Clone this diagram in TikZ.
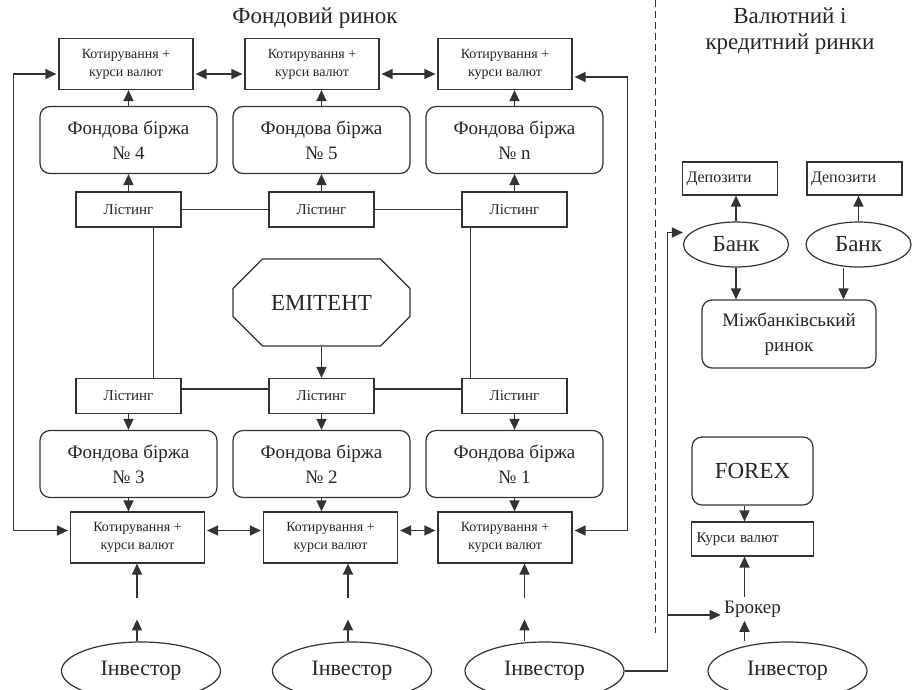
\documentclass[tikz,border=0pt]{standalone}
\usepackage{fontspec}
\setmainfont{Liberation Serif}
\usetikzlibrary{positioning,shapes.geometric,shapes.misc,arrows.meta}

\begin{document}
\begin{tikzpicture}[
  x=1pt, y=1pt,
  node distance=193pt,
  every node/.style={text=black!85},
  quote/.style={rectangle, draw=black!80, line width=1.2pt, minimum width=134pt, minimum height=51pt, align=center, inner sep=1pt, font=\fontsize{14}{18}\selectfont},
  exch/.style={rectangle, rounded corners=10pt, draw=black!80, line width=1.2pt, minimum width=177pt, minimum height=67pt, align=center, font=\fontsize{19}{25}\selectfont},
  listbox/.style={rectangle, draw=black!80, line width=1.2pt, minimum width=105pt, minimum height=35pt, font=\fontsize{15}{18}\selectfont},
  emitbox/.style={chamfered rectangle, chamfered rectangle xsep=22pt, chamfered rectangle ysep=22pt, draw=black!80, line width=1.2pt, minimum width=177pt, minimum height=87pt, inner sep=0pt, font=\fontsize{23}{27}\selectfont},
  person/.style={ellipse, draw=black!80, line width=1.2pt, minimum width=159pt, minimum height=58pt, inner sep=0pt, font=\fontsize{22}{26}\selectfont},
  bankbox/.style={ellipse, draw=black!80, line width=1.2pt, minimum width=105pt, minimum height=45pt, inner sep=0pt, font=\fontsize{23}{27}\selectfont},
  depbox/.style={rectangle, draw=black!80, line width=1.2pt, minimum width=95pt, minimum height=33pt, text width=87pt, align=left, inner sep=3pt, font=\fontsize{16}{19}\selectfont},
  title/.style={align=center, font=\fontsize{23}{26}\selectfont},
  link/.style={draw=black!80, line width=1.3pt},
  arrow/.style={link, -{Triangle[length=11pt,width=10pt]}},
  dblarrow/.style={link, {Triangle[length=11pt,width=10pt]}-{Triangle[length=11pt,width=10pt]}}
]
\useasboundingbox (0,0) rectangle (914,-689);

% Titles
\node[title] (t_stock) at (315,-18) {Фондовий ринок};
\node[title] (t_cur) at (790,-31) {Валютний і\\кредитний ринки};
\coordinate (sep_top) at (655,0);
\coordinate (sep_bot) at (655,-633);
\draw[link, line width=1pt, dash pattern=on 7pt off 4pt] (sep_top) -- (sep_bot);

% Upper exchanges
\node[exch] (ex4) at (128.5,-140) {Фондова біржа\\№ 4};
\node[exch, right of=ex4] (ex5) {Фондова біржа\\№ 5};
\node[exch, right of=ex5] (exn) {Фондова біржа\\№ n};
\node[quote, above of=ex4, node distance=76pt, xshift=-2.5pt] (q4) {Котирування +\\курси валют};
\node[quote, above of=ex5, node distance=76pt, xshift=-9.5pt] (q5) {Котирування +\\курси валют};
\node[quote, above of=exn, node distance=76pt, xshift=-9.5pt] (qn) {Котирування +\\курси валют};
\node[listbox, below of=ex4, node distance=69.5pt] (lt1) {Лістинг};
\node[listbox, below of=ex5, node distance=69.5pt] (lt2) {Лістинг};
\node[listbox, below of=exn, node distance=69.5pt] (lt3) {Лістинг};

\foreach \l/\e/\q in {lt1/ex4/q4, lt2/ex5/q5, lt3/exn/qn} {
  \draw[arrow] (\l.north) -- (\e.south);
  \draw[arrow] (\e.north) -- (\e.north |- \q.south);
}
\draw[link] (lt1.east) -- (lt2.west);
\draw[link] (lt2.east) -- (lt3.west);
\draw[dblarrow, shorten <=2pt, shorten >=2pt] ([yshift=-10pt]q4.east) -- ([yshift=-10pt]q5.west);
\draw[dblarrow, shorten <=2pt, shorten >=2pt] ([yshift=-10pt]q5.east) -- ([yshift=-10pt]qn.west);

% Emitent and lower exchanges
\node[emitbox] (emit) at (321.5,-302.5) {ЕМІТЕНТ};
\node[listbox, below of=emit, node distance=93.5pt] (lb2) {Лістинг};
\node[listbox, left of=lb2] (lb1) {Лістинг};
\node[listbox, right of=lb2] (lb3) {Лістинг};
\node[exch, below of=lb1, node distance=68pt] (ex3) {Фондова біржа\\№ 3};
\node[exch, below of=lb2, node distance=68pt] (ex2) {Фондова біржа\\№ 2};
\node[exch, below of=lb3, node distance=68pt] (ex1) {Фондова біржа\\№ 1};
\node[quote, below of=ex3, node distance=73.5pt, xshift=9pt] (q3) {Котирування +\\курси валют};
\node[quote, below of=ex2, node distance=73.5pt, xshift=9pt] (q2) {Котирування +\\курси валют};
\node[quote, below of=ex1, node distance=73.5pt, xshift=-9.5pt] (q1) {Котирування +\\курси валют};

\draw[arrow] (emit.south) -- (lb2.north);
\foreach \l/\e/\q in {lb1/ex3/q3, lb2/ex2/q2, lb3/ex1/q1} {
  \draw[arrow] (\l.south) -- (\e.north);
  \draw[arrow] (\e.south) -- (\e.south |- \q.north);
}
\draw[link] ([yshift=7pt]lb1.east) -- ([yshift=7pt]lb2.west);
\draw[link] ([yshift=7pt]lb2.east) -- ([yshift=7pt]lb3.west);
\draw[link] ([xshift=25pt]lt1.south) -- ([xshift=25pt]lt1.south |- lb1.north);
\draw[link] ([xshift=-44pt]lt3.south) -- ([xshift=-44pt]lt3.south |- lb3.north);
\draw[dblarrow, shorten <=2pt, shorten >=2pt] ([yshift=7pt]q3.east) -- ([yshift=7pt]q2.west);
\draw[dblarrow, shorten <=2pt, shorten >=2pt] ([yshift=7pt]q2.east) -- ([yshift=7pt]q1.west);

% Feedback loops
\draw[dblarrow, shorten <=2pt, shorten >=2pt] ([yshift=-10pt]q4.west) -- ++(-45pt,0) |- ([yshift=7pt]q3.west);
\draw[dblarrow, shorten <=2pt, shorten >=2pt] ([yshift=-13pt]qn.east) -- ++(55pt,0) |- ([yshift=7pt]q1.east);

% Investors
\node[person] (inv1) at (141,-671) {Інвестор};
\node[person] (inv2) at (352,-671) {Інвестор};
\node[person] (inv3) at (544.5,-671) {Інвестор};
\node[person] (inv4) at (787.5,-671) {Інвестор};
\foreach \i/\q/\s in {inv1/q3/-4, inv2/q2/-4, inv3/q1/-20} {
  \draw[arrow] ([xshift=\s pt]\i.north) -- ++(0,22pt);
  \draw[arrow] ([xshift=\s pt, yshift=43pt]\i.north) -- ([xshift=\s pt]\i.north |- \q.south);
}

% Currency and credit markets
\node[bankbox] (bank1) at (736,-244.5) {Банк};
\node[bankbox] (bank2) at (858.5,-244.5) {Банк};
\node[depbox, above of=bank1, node distance=66pt, xshift=-6pt] (dep1) {Депозити};
\node[depbox, above of=bank2, node distance=66pt, xshift=-4pt] (dep2) {Депозити};
\node[exch, minimum width=174pt, minimum height=68pt] (inter) at (789,-334) {Міжбанківський\\ринок};
\node[exch, minimum width=121pt, minimum height=68pt, font=\fontsize{23}{27}\selectfont] (forex) at (752.5,-471) {FOREX};
\node[depbox, below of=forex, node distance=68pt, minimum width=122pt, text width=112pt, minimum height=34pt, font=\fontsize{15}{18}\selectfont] (kursy) {Курси валют};
\node[below of=kursy, node distance=70pt, font=\fontsize{19}{22}\selectfont] (broker) {Брокер};

\draw[arrow] (bank1.north) -- (bank1.north |- dep1.south);
\draw[arrow] (bank2.north) -- (bank2.north |- dep2.south);
\draw[arrow] (bank1.south) -- (bank1.south |- inter.north);
\draw[arrow] ([xshift=-15pt]bank2.south) -- ([xshift=-15pt]bank2.south |- inter.north);
\draw[arrow] ([xshift=-8pt]forex.south) -- ([xshift=-8pt]forex.south |- kursy.north);
\draw[arrow] ([xshift=-8pt]broker.north) -- ([xshift=-8pt]broker.north |- kursy.south);
\draw[arrow] ([xshift=-8pt]broker.south |- inv4.north) -- ([xshift=-8pt]broker.south);
\draw[arrow] (inv3.east) -- ++(43pt,0) coordinate (bend) |- ([yshift=12pt]bank1.west);
\draw[arrow] ([yshift=-6pt]bend |- broker.west) -- ([yshift=-6pt]broker.west);

\end{tikzpicture}
\end{document}
